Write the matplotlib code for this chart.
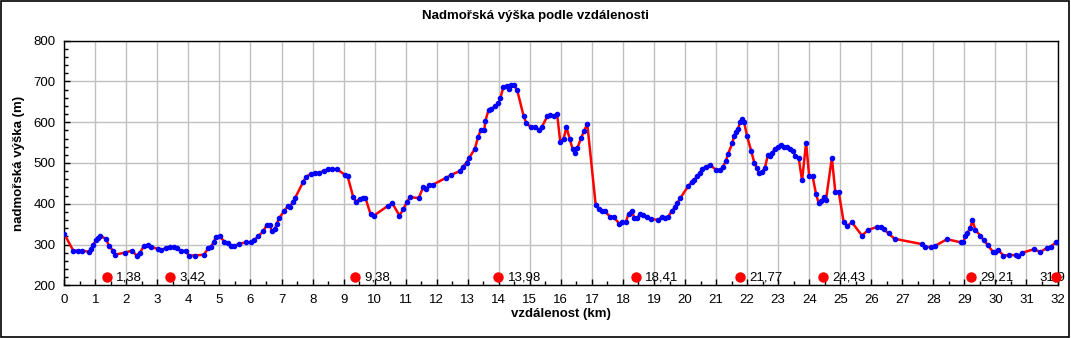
import numpy as np
import matplotlib.pyplot as plt
from matplotlib.patches import Rectangle
from matplotlib.ticker import MultipleLocator

# elevation profile
dist_km = [0.0, 0.29, 0.43, 0.57, 0.81, 0.86, 0.93, 1.02, 1.08, 1.15, 1.36, 1.43, 1.58, 1.63,
           1.95, 2.18, 2.33, 2.44, 2.56, 2.69, 2.81, 3.02, 3.13, 3.27, 3.41, 3.52, 3.63, 3.75,
           3.91, 4.01, 4.21, 4.50, 4.64, 4.72, 4.82, 4.88, 5.01, 5.15, 5.28, 5.37, 5.48, 5.64,
           5.85, 6.02, 6.12, 6.25, 6.41, 6.52, 6.63, 6.68, 6.78, 6.84, 6.92, 7.08, 7.21, 7.27,
           7.36, 7.43, 7.70, 7.79, 7.95, 8.08, 8.22, 8.36, 8.49, 8.62, 8.78, 9.04, 9.13, 9.31,
           9.40, 9.52, 9.63, 9.70, 9.87, 9.98, 10.43, 10.57, 10.80, 10.92, 11.04, 11.15, 11.42,
           11.56, 11.67, 11.75, 11.88, 12.31, 12.47, 12.74, 12.85, 12.96, 13.05, 13.23, 13.33,
           13.42, 13.53, 13.57, 13.67, 13.76, 13.89, 13.98, 14.05, 14.15, 14.27, 14.33, 14.40,
           14.49, 14.59, 14.80, 14.89, 15.03, 15.18, 15.31, 15.39, 15.56, 15.66, 15.78, 15.88,
           15.98, 16.09, 16.18, 16.28, 16.38, 16.45, 16.53, 16.65, 16.75, 16.85, 17.12, 17.22,
           17.31, 17.42, 17.59, 17.70, 17.88, 17.97, 18.09, 18.18, 18.28, 18.37, 18.46, 18.56,
           18.66, 18.77, 18.89, 19.14, 19.25, 19.35, 19.46, 19.57, 19.68, 19.75, 19.84, 20.11,
           20.22, 20.30, 20.37, 20.48, 20.55, 20.66, 20.81, 21.0, 21.13, 21.21, 21.32, 21.39,
           21.52, 21.58, 21.64, 21.71, 21.77, 21.84, 21.90, 22.00, 22.13, 22.23, 22.32, 22.37,
           22.48, 22.57, 22.67, 22.74, 22.80, 22.89, 22.99, 23.08, 23.18, 23.29, 23.39, 23.48,
           23.55, 23.66, 23.77, 23.90, 24.00, 24.11, 24.22, 24.30, 24.39, 24.48, 24.54, 24.73,
           24.84, 24.95, 25.11, 25.22, 25.38, 25.70, 25.91, 26.18, 26.32, 26.41, 26.56, 26.75,
           27.63, 27.74, 27.93, 28.04, 28.44, 28.90, 28.97, 29.03, 29.10, 29.19, 29.26, 29.35,
           29.51, 29.62, 29.75, 29.92, 29.99, 30.08, 30.26, 30.44, 30.66, 30.74, 30.87, 31.23,
           31.45, 31.65, 31.78, 31.95]
elev_m = [326, 285, 285, 285, 282, 289, 299, 310, 315, 321, 314, 296, 285, 275,
          280, 285, 273, 280, 296, 299, 294, 289, 286, 292, 294, 294, 292, 283,
          285, 273, 273, 275, 291, 295, 305, 319, 321, 307, 304, 297, 297, 302,
          305, 305, 310, 321, 332, 348, 348, 332, 337, 350, 364, 382, 395, 393,
          404, 413, 454, 466, 474, 476, 476, 481, 484, 485, 485, 471, 467, 416,
          405, 412, 415, 415, 374, 371, 395, 401, 371, 386, 405, 416, 414,
          440, 436, 447, 447, 464, 471, 480, 491, 501, 513, 535, 563,
          581, 581, 604, 630, 633, 640, 646, 659, 687, 690, 682, 692,
          691, 679, 615, 597, 588, 588, 581, 589, 614, 618, 614, 619,
          552, 560, 588, 560, 534, 524, 536, 561, 579, 596, 398, 387,
          381, 381, 368, 368, 351, 354, 354, 376, 382, 365, 365, 376,
          372, 367, 363, 360, 368, 365, 368, 382, 392, 401, 413, 444,
          454, 458, 467, 475, 485, 491, 495, 483, 483, 489, 506, 523,
          548, 566, 577, 583, 601, 607, 601, 565, 530, 501, 487, 476,
          479, 487, 520, 518, 524, 535, 538, 544, 540, 540, 534, 530,
          517, 513, 457, 550, 467, 467, 424, 403, 406, 417, 409, 513,
          430, 430, 355, 346, 354, 322, 336, 343, 343, 337, 327, 314,
          301, 295, 293, 296, 313, 305, 305, 322, 329, 340, 360, 336,
          322, 311, 299, 282, 282, 287, 273, 274, 274, 272, 280, 288,
          282, 291, 295, 305]

# distance markers along the bottom
mark_km = [1.38, 3.42, 9.38, 13.98, 18.41, 21.77, 24.43, 29.21, 31.96]
mark_labels = ['1,38', '3,42', '9,38', '13,98', '18,41', '21,77', '24,43', '29,21', '31,9']
mark_y = 220

plt.rcParams['font.family'] = ['Liberation Sans', 'DejaVu Sans']

fig = plt.figure(figsize=(10.71, 3.38), dpi=100)
ax = fig.add_axes([0.060, 0.156, 0.9274, 0.7237])

ax.plot(dist_km, elev_m, color='#ff0000', lw=1.8, zorder=3)
ax.plot(dist_km, elev_m, ls='none', marker='o', ms=3.0, mfc='#0000ff', mec='#0000ff', zorder=4)

ax.plot(mark_km, [mark_y] * len(mark_km), ls='none', marker='o', ms=6.5,
        mfc='#ff0000', mec='#ff0000', zorder=5, clip_on=False)
for i, (k, lab) in enumerate(zip(mark_km, mark_labels)):
    if i == len(mark_km) - 1:
        ax.text(k + 0.3, mark_y, lab, ha='right', va='center', fontsize=9.5, zorder=4)
    else:
        ax.text(k + 0.3, mark_y, lab, ha='left', va='center', fontsize=9.5, zorder=6)

ax.set_xlim(0, 32)
ax.set_ylim(200, 800)
ax.xaxis.set_major_locator(MultipleLocator(1))
ax.xaxis.set_minor_locator(MultipleLocator(0.5))
ax.yaxis.set_major_locator(MultipleLocator(100))
ax.yaxis.set_minor_locator(MultipleLocator(20))
ax.tick_params(which='major', direction='in', length=4, width=1, labelsize=9.5, pad=6)
ax.tick_params(which='minor', direction='in', length=3, width=1)
ax.grid(True, which='major', color='#c0c0c0', lw=1, zorder=0)
for s in ax.spines.values():
    s.set_color('black')
    s.set_linewidth(1)

ax.set_xlabel('vzdálenost (km)', fontsize=9.5, fontweight='bold', labelpad=2)
ax.set_ylabel('nadmořská výška (m)', fontsize=9.5, fontweight='bold', labelpad=6)
fig.text(0.5, 0.952, 'Nadmořská výška podle vzdálenosti', ha='center', va='center',
         fontsize=9.5, fontweight='bold')

fig.patches.append(Rectangle((0.001, 0.002), 0.997, 0.995, transform=fig.transFigure,
                             fill=False, ec='black', lw=1.2))

fig.savefig('out.png', dpi=100)
